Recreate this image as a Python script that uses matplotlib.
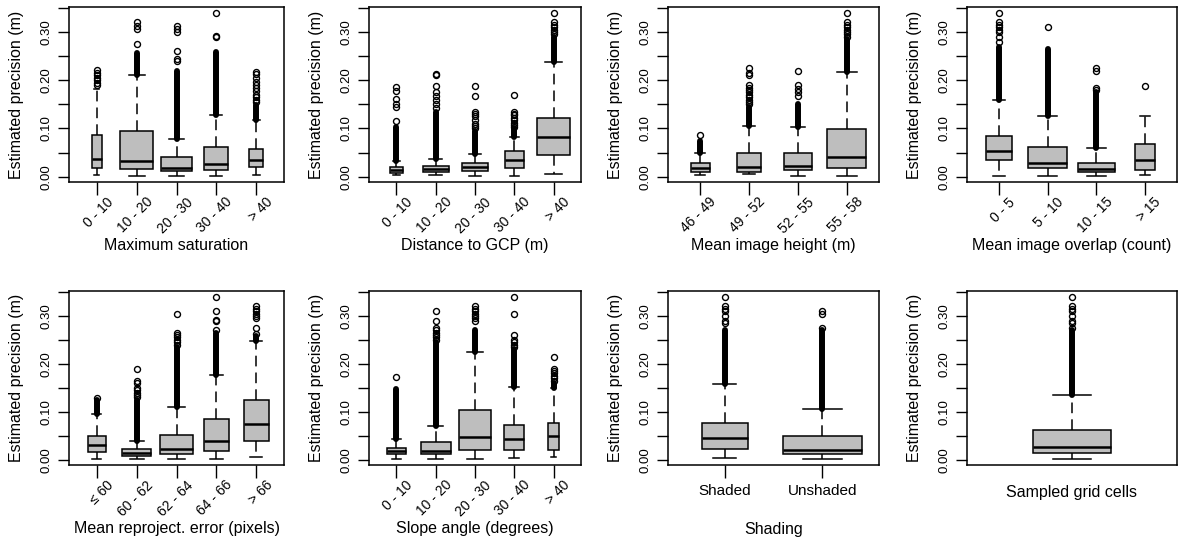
import matplotlib
matplotlib.use("Agg")
import matplotlib.pyplot as plt
from matplotlib.transforms import offset_copy

plt.rcParams['font.family'] = ['Liberation Sans', 'DejaVu Sans']

# ---- data: (lower whisker, q1, median, q3, upper whisker)
sat_labels = ["0 - 10", "10 - 20", "20 - 30", "30 - 40", "> 40"]
sat_widths = [0.25, 0.82, 0.80, 0.61, 0.36]
sat_stats = [(0.0035, 0.019, 0.037, 0.087, 0.182),
             (0.0014, 0.015, 0.032, 0.094, 0.210),
             (0.002, 0.012, 0.019, 0.040, 0.078),
             (0.0014, 0.014, 0.027, 0.061, 0.128),
             (0.004, 0.0195, 0.035, 0.058, 0.117)]
sat_dense = [None, (0.210, 0.257), (0.078, 0.220), (0.128, 0.258), (0.117, 0.149)]
sat_sparse = [[0.19, 0.195, 0.20, 0.205, 0.21, 0.215, 0.222],
              [0.276, 0.306, 0.313, 0.32],
              [0.239, 0.245, 0.26, 0.30, 0.306, 0.312],
              [0.289, 0.291, 0.339],
              [0.155, 0.16, 0.165, 0.17, 0.178, 0.183, 0.19, 0.197, 0.205, 0.212, 0.218]]

gcp_labels = ["0 - 10", "10 - 20", "20 - 30", "30 - 40", "> 40"]
gcp_widths = [0.32, 0.67, 0.64, 0.48, 0.83]
gcp_stats = [(0.0035, 0.008, 0.013, 0.020, 0.033),
             (0.004, 0.010, 0.017, 0.023, 0.037),
             (0.001, 0.0126, 0.020, 0.029, 0.047),
             (0.001, 0.019, 0.035, 0.053, 0.082),
             (0.005, 0.0455, 0.082, 0.122, 0.238)]
gcp_dense = [(0.033, 0.103), (0.037, 0.135), (0.047, 0.095), (0.082, 0.100), (0.238, 0.290)]
gcp_sparse = [[0.115, 0.145, 0.15, 0.162, 0.178, 0.186],
              [0.142, 0.15, 0.16, 0.168, 0.175, 0.188, 0.21, 0.213],
              [0.10, 0.105, 0.11, 0.118, 0.125, 0.13, 0.135, 0.168, 0.188],
              [0.103, 0.107, 0.112, 0.118, 0.122, 0.127, 0.131, 0.135, 0.17],
              [0.295, 0.30, 0.305, 0.31, 0.315, 0.32, 0.339]]

hgt_labels = ["46 - 49", "49 - 52", "52 - 55", "55 - 58"]
hgt_widths = [0.39, 0.48, 0.56, 0.80]
hgt_stats = [(0.0035, 0.0105, 0.019, 0.028, 0.050),
             (0.005, 0.0105, 0.020, 0.050, 0.106),
             (0.001, 0.013, 0.022, 0.050, 0.104),
             (0.002, 0.019, 0.041, 0.098, 0.217)]
hgt_dense = [(0.050, 0.075), (0.106, 0.145), (0.104, 0.150), (0.217, 0.285)]
hgt_sparse = [[0.086],
              [0.15, 0.155, 0.16, 0.165, 0.17, 0.175, 0.18, 0.185, 0.19, 0.21, 0.215, 0.225],
              [0.168, 0.175, 0.182, 0.19, 0.22],
              [0.29, 0.295, 0.30, 0.305, 0.31, 0.315, 0.32, 0.339]]

ovl_labels = ["0 - 5", "5 - 10", "10 - 15", "> 15"]
ovl_widths = [0.52, 0.80, 0.76, 0.41]
ovl_stats = [(0.002, 0.035, 0.054, 0.085, 0.160),
             (0.001, 0.0175, 0.028, 0.061, 0.126),
             (0.001, 0.010, 0.016, 0.029, 0.059),
             (0.0035, 0.0147, 0.0336, 0.068, 0.125)]
ovl_dense = [(0.160, 0.270), (0.126, 0.265), (0.059, 0.175), None]
ovl_sparse = [[0.28, 0.29, 0.30, 0.305, 0.31, 0.315, 0.32, 0.339],
              [0.31],
              [0.18, 0.185, 0.22, 0.225],
              [0.188]]

rep_labels = ["\u2264 60", "60 - 62", "62 - 64", "64 - 66", "> 66"]
rep_widths = [0.44, 0.72, 0.82, 0.63, 0.63]
rep_stats = [(0.0014, 0.017, 0.0315, 0.050, 0.096),
             (0.0007, 0.0084, 0.0133, 0.0224, 0.040),
             (0.0007, 0.012, 0.022, 0.052, 0.110),
             (0.0014, 0.019, 0.0385, 0.084, 0.176),
             (0.005, 0.0385, 0.075, 0.125, 0.248)]
rep_dense = [(0.096, 0.125), (0.040, 0.125), (0.110, 0.235), (0.176, 0.265), (0.248, 0.258)]
rep_sparse = [[0.128],
              [0.13, 0.135, 0.14, 0.145, 0.15, 0.16, 0.165, 0.19],
              [0.24, 0.245, 0.25, 0.255, 0.26, 0.265, 0.305],
              [0.27, 0.29, 0.292, 0.31, 0.339],
              [0.262, 0.275, 0.295, 0.30, 0.305, 0.31, 0.315, 0.32]]

slp_labels = ["0 - 10", "10 - 20", "20 - 30", "30 - 40", "> 40"]
slp_widths = [0.50, 0.77, 0.84, 0.51, 0.26]
slp_stats = [(0.0014, 0.012, 0.0175, 0.0245, 0.043),
             (0.0007, 0.012, 0.019, 0.036, 0.070),
             (0.0007, 0.021, 0.048, 0.103, 0.225),
             (0.003, 0.020, 0.044, 0.073, 0.152),
             (0.005, 0.020, 0.049, 0.076, 0.150)]
slp_dense = [(0.043, 0.148), (0.070, 0.245), (0.225, 0.270), (0.152, 0.230), (0.150, 0.160)]
slp_sparse = [[0.172],
              [0.25, 0.255, 0.26, 0.265, 0.27, 0.275, 0.29, 0.31],
              [0.29, 0.295, 0.30, 0.305, 0.31, 0.315, 0.32],
              [0.235, 0.24, 0.245, 0.25, 0.26, 0.305, 0.339],
              [0.165, 0.17, 0.175, 0.18, 0.185, 0.19, 0.215]]

shd_labels = ["Shaded", "Unshaded"]
shd_widths = [0.47, 0.81]
shd_stats = [(0.003, 0.0224, 0.045, 0.077, 0.157),
             (0.0007, 0.012, 0.020, 0.050, 0.106)]
shd_dense = [(0.157, 0.270), (0.106, 0.270)]
shd_sparse = [[0.285, 0.29, 0.30, 0.31, 0.315, 0.32, 0.339],
              [0.275, 0.305, 0.31]]

all_labels = [""]
all_widths = [0.40]
all_stats = [(0.0014, 0.014, 0.026, 0.062, 0.134)]
all_dense = [(0.134, 0.270)]
all_sparse = [[0.275, 0.285, 0.29, 0.30, 0.31, 0.315, 0.32, 0.339]]

panels = [
    ("Maximum saturation", sat_labels, sat_widths, sat_stats, sat_dense, sat_sparse),
    ("Distance to GCP (m)", gcp_labels, gcp_widths, gcp_stats, gcp_dense, gcp_sparse),
    ("Mean image height (m)", hgt_labels, hgt_widths, hgt_stats, hgt_dense, hgt_sparse),
    ("Mean image overlap (count)", ovl_labels, ovl_widths, ovl_stats, ovl_dense, ovl_sparse),
    ("Mean reproject. error (pixels)", rep_labels, rep_widths, rep_stats, rep_dense, rep_sparse),
    ("Slope angle (degrees)", slp_labels, slp_widths, slp_stats, slp_dense, slp_sparse),
    ("Shading", shd_labels, shd_widths, shd_stats, shd_dense, shd_sparse),
    ("Sampled grid cells", all_labels, all_widths, all_stats, all_dense, all_sparse),
]

W, H = 1180, 540
fig = plt.figure(figsize=(W / 100, H / 100), dpi=100)

col_px = [(69, 215), (369, 212), (668, 211), (967, 210)]
row_px = [(7, 175), (291, 174)]

for i, (xlab, labels, widths, stats, dense, sparse) in enumerate(panels):
    r, c = divmod(i, 4)
    left, w = col_px[c]
    top, h = row_px[r]
    ax = fig.add_axes([left / W, 1 - (top + h) / H, w / W, h / H])
    n = len(labels)
    pos = list(range(1, n + 1))

    bstats = []
    for s, fl in zip(stats, sparse):
        bstats.append(dict(whislo=s[0], q1=s[1], med=s[2], q3=s[3], whishi=s[4], fliers=fl))

    ax.bxp(bstats, positions=pos, widths=widths, capwidths=[0.5 * wd for wd in widths],
           patch_artist=True, manage_ticks=False,
           boxprops=dict(facecolor='#bebebe', edgecolor='black', linewidth=1.1),
           whiskerprops=dict(color='black', linewidth=1.1, linestyle=(0, (7, 4))),
           capprops=dict(color='black', linewidth=1.1),
           medianprops=dict(color='black', linewidth=1.8, solid_capstyle='butt'),
           flierprops=dict(marker='o', markerfacecolor='none', markeredgecolor='black',
                           markersize=4.3, markeredgewidth=1.0))

    # dense runs of outliers appear as a solid black column
    for p, d in zip(pos, dense):
        if d is not None:
            ax.vlines(p, d[0], d[1], color='black', linewidth=4.3, capstyle='round', zorder=3)

    ax.set_xlim(0.5 - 0.04 * n, n + 0.5 + 0.04 * n)
    ax.set_ylim(-0.011, 0.352)

    ax.set_yticks([0.0, 0.1, 0.2, 0.3])
    ax.set_yticklabels(["0.00", "0.10", "0.20", "0.30"], rotation=90, va='center', fontsize=9.5)
    ax.set_yticks([0.05, 0.15, 0.25, 0.35], minor=True)
    ax.tick_params(axis='y', which='both', length=8, width=1.0, pad=4)

    for sp in ax.spines.values():
        sp.set_linewidth(1.1)

    ax.set_ylabel("Estimated precision (m)", fontsize=11.5)
    ax.yaxis.set_label_coords(-45 / w, 0.5)

    if i == 7:
        ax.set_xticks([])
        ax.set_xlabel(xlab, fontsize=11.5)
        ax.xaxis.set_label_coords(0.5, -20 / h)
    elif i == 6:
        ax.set_xticks(pos)
        ax.set_xticklabels(labels, fontsize=11)
        ax.tick_params(axis='x', length=9, width=1.0, pad=5)
        ax.set_xlabel(xlab, fontsize=11.5)
        ax.xaxis.set_label_coords(0.5, -57 / h)
    else:
        ax.set_xticks(pos)
        ax.set_xticklabels([])
        ax.tick_params(axis='x', length=9, width=1.0)
        trans = offset_copy(ax.get_xaxis_transform(), fig=fig, x=14, y=-18, units='dots')
        for p, lab in zip(pos, labels):
            ax.text(p, 0, lab, transform=trans, rotation=45, rotation_mode='anchor',
                    ha='right', va='center', fontsize=10)
        ax.set_xlabel(xlab, fontsize=11.5)
        ax.xaxis.set_label_coords(0.5, -56 / h)

fig.savefig("out.png", dpi=100)
